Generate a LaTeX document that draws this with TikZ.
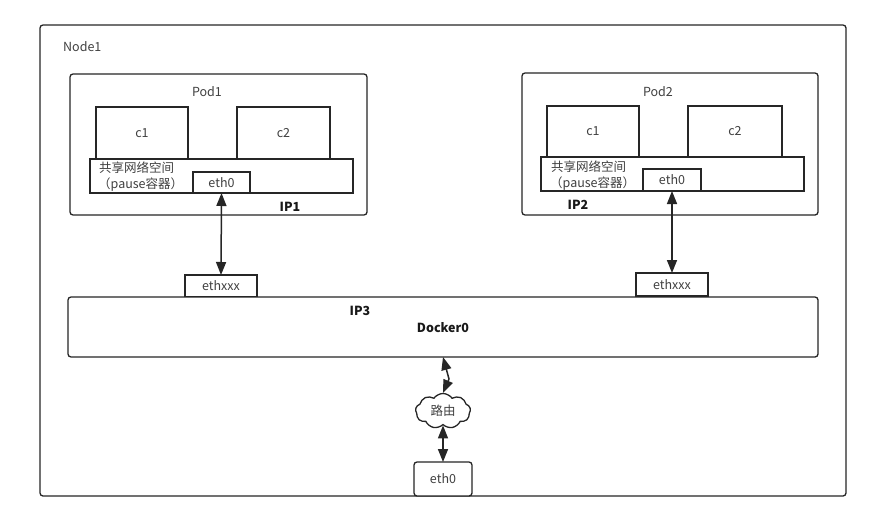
\documentclass[tikz,border=0pt]{standalone}
\usepackage{fontspec}
\setmainfont{Noto Sans CJK SC}
\usetikzlibrary{shapes.symbols,arrows.meta,calc}
\begin{document}
\begin{tikzpicture}[x=1pt,y=-1pt,
  box/.style={draw=black!85, line width=1.3pt, inner sep=0pt, outer sep=0pt, anchor=north west, fill=white},
  rbox/.style={box, rounded corners=3pt},
  lbl/.style={font=\fontsize{12.5}{14}\selectfont, text=black!75, inner sep=0pt},
  blbl/.style={font=\fontsize{12.5}{14}\selectfont\bfseries, text=black!90, inner sep=0pt},
  arr/.style={line width=1.5pt, draw=black!85, {Triangle[length=13pt,width=10pt]}-{Triangle[length=13pt,width=10pt]}}
]
\useasboundingbox (0,0) rectangle (871,522);
% Node1
\node[rbox, minimum width=806pt, minimum height=471pt] (node1) at (40,25) {};
\node[lbl, anchor=west] (node1t) at (63,47) {Node1};
% Pod1
\node[rbox, minimum width=297pt, minimum height=141pt] (pod1) at (70,74) {};
\node[lbl] (pod1t) at (207,92) {Pod1};
\node[box, minimum width=92pt, minimum height=52pt] (c1a) at (96,107) {};
\node[lbl] at (c1a.center) {c1};
\node[box, minimum width=93pt, minimum height=52pt] (c2a) at (237,107) {};
\node[lbl] at (c2a.center) {c2};
\node[box, minimum width=263pt, minimum height=34pt] (bar1) at (90,159) {};
\node[lbl, anchor=west] (sh1) at (99,168) {共享网络空间};
\node[lbl, anchor=west] (pa1) at (98,185) {（pause容器）};
\node[box, minimum width=57pt, minimum height=21pt] (eth0a) at (193,172) {};
\node[lbl] at (eth0a.center) {eth0};
\node[blbl] (ip1) at (290,207) {IP1};
% Pod2
\node[rbox, minimum width=296pt, minimum height=142pt] (pod2) at (522,73) {};
\node[lbl] (pod2t) at (658,92) {Pod2};
\node[box, minimum width=92pt, minimum height=51pt] (c1b) at (547,106) {};
\node[lbl] at (c1b.center) {c1};
\node[box, minimum width=94pt, minimum height=51pt] (c2b) at (688,106) {};
\node[lbl] at (c2b.center) {c2};
\node[box, minimum width=263pt, minimum height=34pt] (bar2) at (541,157) {};
\node[lbl, anchor=west] (sh2) at (551,167) {共享网络空间};
\node[lbl, anchor=west] (pa2) at (550,184) {（pause容器）};
\node[box, minimum width=58pt, minimum height=22pt] (eth0b) at (643,169) {};
\node[lbl] at (eth0b.center) {eth0};
\node[blbl] (ip2) at (578,205) {IP2};
% ethxxx
\node[box, minimum width=72pt, minimum height=22pt] (ethA) at (185,275) {};
\node[lbl] at (ethA.center) {ethxxx};
\node[box, minimum width=72pt, minimum height=23pt] (ethB) at (636,273) {};
\node[lbl] at (ethB.center) {ethxxx};
% Docker0
\node[rbox, minimum width=750pt, minimum height=60pt] (docker) at (68,297) {};
\node[blbl] (ip3) at (360,311) {IP3};
\node[blbl] (dk) at (443,328) {Docker0};
% cloud
\node[cloud, cloud puffs=9, cloud puff arc=110, aspect=1.6, draw=black!85, line width=1.3pt, fill=white,
      minimum width=55pt, minimum height=35pt, inner sep=0pt, lbl] (cloud) at (443,411) {路由};
\node[rbox, minimum width=58pt, minimum height=34pt] (eth0c) at (414,462) {};
\node[lbl] at (eth0c.center) {eth0};
% connectors
\draw[arr] (eth0a.south) -- (ethA.north);
\draw[arr] (eth0b.south) -- (ethB.north);
\draw[arr] (docker.south) -- ($(docker.south)+(6,22)$) -- (cloud.north);
\draw[arr] (cloud.south) -- (eth0c.north);
\end{tikzpicture}
\end{document}
